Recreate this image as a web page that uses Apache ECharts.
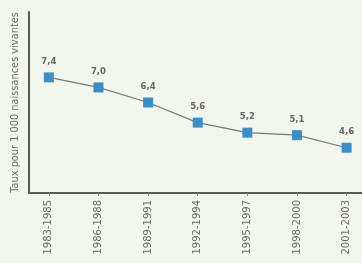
<!DOCTYPE html>
<html>
<head>
<meta charset="utf-8">
<script src="https://cdn.jsdelivr.net/npm/echarts@6/dist/echarts.min.js"></script>
<style>
  html, body { margin: 0; padding: 0; background: #f3f6ec; }
  #chart { width: 362px; height: 263px; }
</style>
</head>
<body>
<div id="chart"></div>
<script>
const categories = ['1983-1985', '1986-1988', '1989-1991', '1992-1994', '1995-1997', '1998-2000', '2001-2003'];
const rates = [7.4, 7.0, 6.4, 5.6, 5.2, 5.1, 4.6];
const tickIndexes = [0, 1, 2, 3, 4, 5, 6];

const chart = echarts.init(document.getElementById('chart'));

const option = {
    backgroundColor: '#f3f6ec',
    animation: false,
    grid: { left: 29, right: 0, top: 12, bottom: 70 },
    xAxis: {
        type: 'value',
        min: -0.4,
        max: 6.31,
        splitLine: { show: false },
        axisLine: { lineStyle: { color: '#5a5a5a', width: 2 } },
        axisTick: {
            customValues: tickIndexes,
            length: 3,
            lineStyle: { color: '#888' }
        },
        axisLabel: {
            customValues: tickIndexes,
            rotate: 90,
            margin: 7,
            color: '#6a6a6a',
            fontFamily: 'DejaVu Sans',
            fontSize: 10,
            formatter: (v) => categories[v]
        }
    },
    yAxis: {
        type: 'value',
        min: 2.8,
        max: 10,
        name: 'Taux pour 1 000 naissances vivantes',
        nameLocation: 'middle',
        nameGap: 9,
        nameTextStyle: { color: '#6a6a6a', fontFamily: 'DejaVu Sans', fontSize: 9.8 },
        axisLine: { show: true, onZero: false, lineStyle: { color: '#5a5a5a', width: 2 } },
        axisTick: { show: false },
        axisLabel: { show: false },
        splitLine: { show: false }
    },
    series: [{
        type: 'line',
        data: rates.map((r, i) => [i, r]),
        symbol: 'rect',
        symbolSize: 10,
        itemStyle: { color: '#3a8fc8' },
        lineStyle: { color: '#7a7a70', width: 1.2 },
        label: {
            show: true,
            position: 'top',
            distance: 6,
            color: '#666',
            fontFamily: 'DejaVu Sans',
            fontWeight: 'bold',
            fontSize: 8.5,
            formatter: (p) => p.value[1].toFixed(1).replace('.', ',')
        }
    }]
};

chart.setOption(option);
</script>
</body>
</html>
